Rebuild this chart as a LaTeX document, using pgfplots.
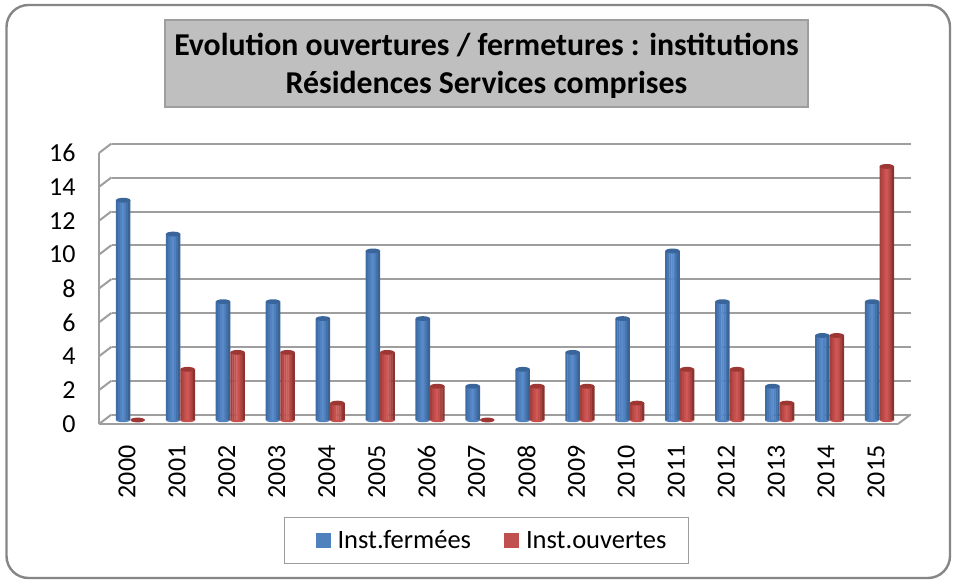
\documentclass[border=0pt]{standalone}
\usepackage{pgfplots}
\usepackage{pgfplotstable}
\usepackage{fontspec}
\setmainfont{Carlito}
\pgfplotsset{compat=1.18}
\definecolor{gridc}{HTML}{9E9E9E}
\definecolor{framec}{HTML}{868686}
\definecolor{bluetop}{HTML}{3A659B}
\definecolor{bluekey}{HTML}{4F81BD}
\definecolor{redtop}{HTML}{9C3734}
\definecolor{redkey}{HTML}{C0504D}
\definecolor{bA}{HTML}{3D6CA6}\definecolor{bB}{HTML}{4877B3}\definecolor{bC}{HTML}{5283C1}\definecolor{bD}{HTML}{5A8CCB}
\definecolor{bE}{HTML}{5080BD}\definecolor{bF}{HTML}{4472AB}\definecolor{bG}{HTML}{3A6496}
\definecolor{rA}{HTML}{A33E3B}\definecolor{rB}{HTML}{B54845}\definecolor{rC}{HTML}{C5504D}\definecolor{rD}{HTML}{CF5956}
\definecolor{rE}{HTML}{C34F4C}\definecolor{rF}{HTML}{AB4441}\definecolor{rG}{HTML}{8C3331}
\pgfdeclareplotmark{bluecap}{\pgfsetfillcolor{bluetop}\pgfpathellipse{\pgfpointorigin}{\pgfqpoint{7.2pt}{0pt}}{\pgfqpoint{0pt}{2.4pt}}\pgfusepathqfill}
\pgfdeclareplotmark{redcap}{\pgfsetfillcolor{redtop}\pgfpathellipse{\pgfpointorigin}{\pgfqpoint{7.2pt}{0pt}}{\pgfqpoint{0pt}{2.4pt}}\pgfusepathqfill}
\pgfdeclareplotmark{bluebase}{\pgfsetfillcolor{bC}\pgfpathmoveto{\pgfqpoint{-7.2pt}{0.3pt}}\pgfpathcurveto{\pgfqpoint{-7.2pt}{-3pt}}{\pgfqpoint{7.2pt}{-3pt}}{\pgfqpoint{7.2pt}{0.3pt}}\pgfpathclose\pgfusepathqfill}
\pgfdeclareplotmark{redbase}{\pgfsetfillcolor{rC}\pgfpathmoveto{\pgfqpoint{-7.2pt}{0.3pt}}\pgfpathcurveto{\pgfqpoint{-7.2pt}{-3pt}}{\pgfqpoint{7.2pt}{-3pt}}{\pgfqpoint{7.2pt}{0.3pt}}\pgfpathclose\pgfusepathqfill}
\pgfplotstableread{
x  fermees ouvertes
0  13 0
1  11 3
2  7  4
3  7  4
4  6  1
5  10 4
6  6  2
7  2  0
8  3  2
9  4  2
10 6  1
11 10 3
12 7  3
13 2  1
14 5  5
15 7  15
}\datatable
\pgfplotstableread{
x  base
0  0
1  0
2  0
3  0
4  0
5  0
6  0
7  0
8  0
9  0
10 0
11 0
12 0
13 0
14 0
15 0
}\basetable
\pgfplotstableread{
x  base
1  0
2  0
3  0
4  0
5  0
6  0
8  0
9  0
10 0
11 0
12 0
13 0
14 0
15 0
}\redbasetable
% one vertical strip of a cylinder: shift, colour, column
\newcommand{\strip}[3]{\addplot[bar shift=#1pt,draw=none,fill=#2,forget plot] table[x=x,y=#3] {\datatable};}
\begin{document}
\begin{tikzpicture}[x=1pt,y=1pt]
\path[use as bounding box] (0,0) rectangle (955,582);
\fill[white] (0,0) rectangle (955,582);
\draw[framec,line width=2.4pt,rounded corners=22pt] (6.5,4) rectangle (950,577);
\node[draw=gridc,line width=1.5pt,fill=black!25,minimum width=643pt,minimum height=87pt,inner sep=0pt] at (486.5,518.5) {};
\node[align=center,inner sep=0pt,font=\fontsize{31.8}{38}\selectfont\bfseries] at (486.5,516)
  {Evolution ouvertures / fermetures : institutions\\Résidences Services comprises};
% back wall
\begin{axis}[at={(111.5pt,167.5pt)},anchor=south west,scale only axis,width=799pt,height=270.5pt,
  xmin=-0.5,xmax=15.5,ymin=0,ymax=16,ytick={0,2,...,16},xtick=\empty,yticklabels={},
  axis line style={draw=none},major tick length=0pt,ymajorgrids,
  grid style={gridc,line width=2pt}]
\end{axis}
% front frame
\begin{axis}[at={(99pt,158pt)},anchor=south west,scale only axis,width=799pt,height=271pt,
  xmin=-0.5,xmax=15.5,ymin=0,ymax=16,clip=false,
  axis x line*=bottom,axis y line*=left,axis line style={gridc,line width=2pt,-},
  ytick={0,2,...,16},xtick={0,...,15},
  xticklabels={2000,2001,2002,2003,2004,2005,2006,2007,2008,2009,2010,2011,2012,2013,2014,2015},
  major tick length=0pt,
  /pgf/number format/assume math mode=true,
  ticklabel style={font=\fontsize{26}{30}\selectfont},
  yticklabel style={anchor=east,xshift=-20pt},
  xticklabel style={rotate=90,anchor=east,xshift=-18pt,yshift=-3pt},
  no markers]
\addplot[gridc,line width=2pt] coordinates {(-0.5,0)(-0.25,0.56)};
\addplot[gridc,line width=2pt] coordinates {(-0.5,2)(-0.25,2.56)};
\addplot[gridc,line width=2pt] coordinates {(-0.5,4)(-0.25,4.56)};
\addplot[gridc,line width=2pt] coordinates {(-0.5,6)(-0.25,6.56)};
\addplot[gridc,line width=2pt] coordinates {(-0.5,8)(-0.25,8.56)};
\addplot[gridc,line width=2pt] coordinates {(-0.5,10)(-0.25,10.56)};
\addplot[gridc,line width=2pt] coordinates {(-0.5,12)(-0.25,12.56)};
\addplot[gridc,line width=2pt] coordinates {(-0.5,14)(-0.25,14.56)};
\addplot[gridc,line width=2pt] coordinates {(-0.5,16)(-0.25,16.56)};
\addplot[gridc,line width=2pt] coordinates {(15.5,0)(15.75,0.56)};
\end{axis}
% bars
\begin{axis}[at={(105.5pt,162pt)},anchor=south west,scale only axis,width=799pt,height=270.5pt,
  xmin=-0.5,xmax=15.5,ymin=0,ymax=16,clip=false,hide axis,
  ybar,bar width=2.4pt,
  legend style={at={(381pt,-120.5pt)},anchor=center,draw=gridc,line width=1.5pt,fill=white,
    legend columns=2,font=\fontsize{26.5}{30}\selectfont,
    /tikz/every odd column/.style={column sep=5pt},
    /tikz/every even column/.style={column sep=31pt},
    inner xsep=20pt,inner ysep=11pt},
  legend cell align=left]
\addplot[bar shift=-7.25pt,draw=none,fill=none,mark=bluebase,mark options={xshift=-7.25pt},forget plot] table[x=x,y=base] {\basetable};
\addplot[bar shift=7.25pt,draw=none,fill=none,mark=redbase,mark options={xshift=7.25pt},forget plot] table[x=x,y=base] {\redbasetable};
\strip{-13.4}{bA}{fermees}\strip{-11.35}{bB}{fermees}\strip{-9.3}{bC}{fermees}\strip{-7.25}{bD}{fermees}
\strip{-5.2}{bE}{fermees}\strip{-3.15}{bF}{fermees}\strip{-1.2}{bG}{fermees}
\strip{1.2}{rA}{ouvertes}\strip{3.15}{rB}{ouvertes}\strip{5.2}{rC}{ouvertes}\strip{7.25}{rD}{ouvertes}
\strip{9.3}{rE}{ouvertes}\strip{11.35}{rF}{ouvertes}\strip{13.4}{rG}{ouvertes}
\addplot[bar shift=-7.25pt,draw=none,fill=none,mark=bluecap,mark options={xshift=-7.25pt},
  legend image code/.code={\path (-11pt,0pt) -- (0pt,0pt);\fill[bluekey] (0pt,-7.5pt) rectangle (15pt,7.5pt);}] table[x=x,y=fermees] {\datatable};
\addplot[bar shift=7.25pt,draw=none,fill=none,mark=redcap,mark options={xshift=7.25pt},
  legend image code/.code={\fill[redkey] (0pt,-7.5pt) rectangle (15pt,7.5pt);}] table[x=x,y=ouvertes] {\datatable};
\legend{Inst.fermées,Inst.ouvertes}
\end{axis}
\end{tikzpicture}
\end{document}
